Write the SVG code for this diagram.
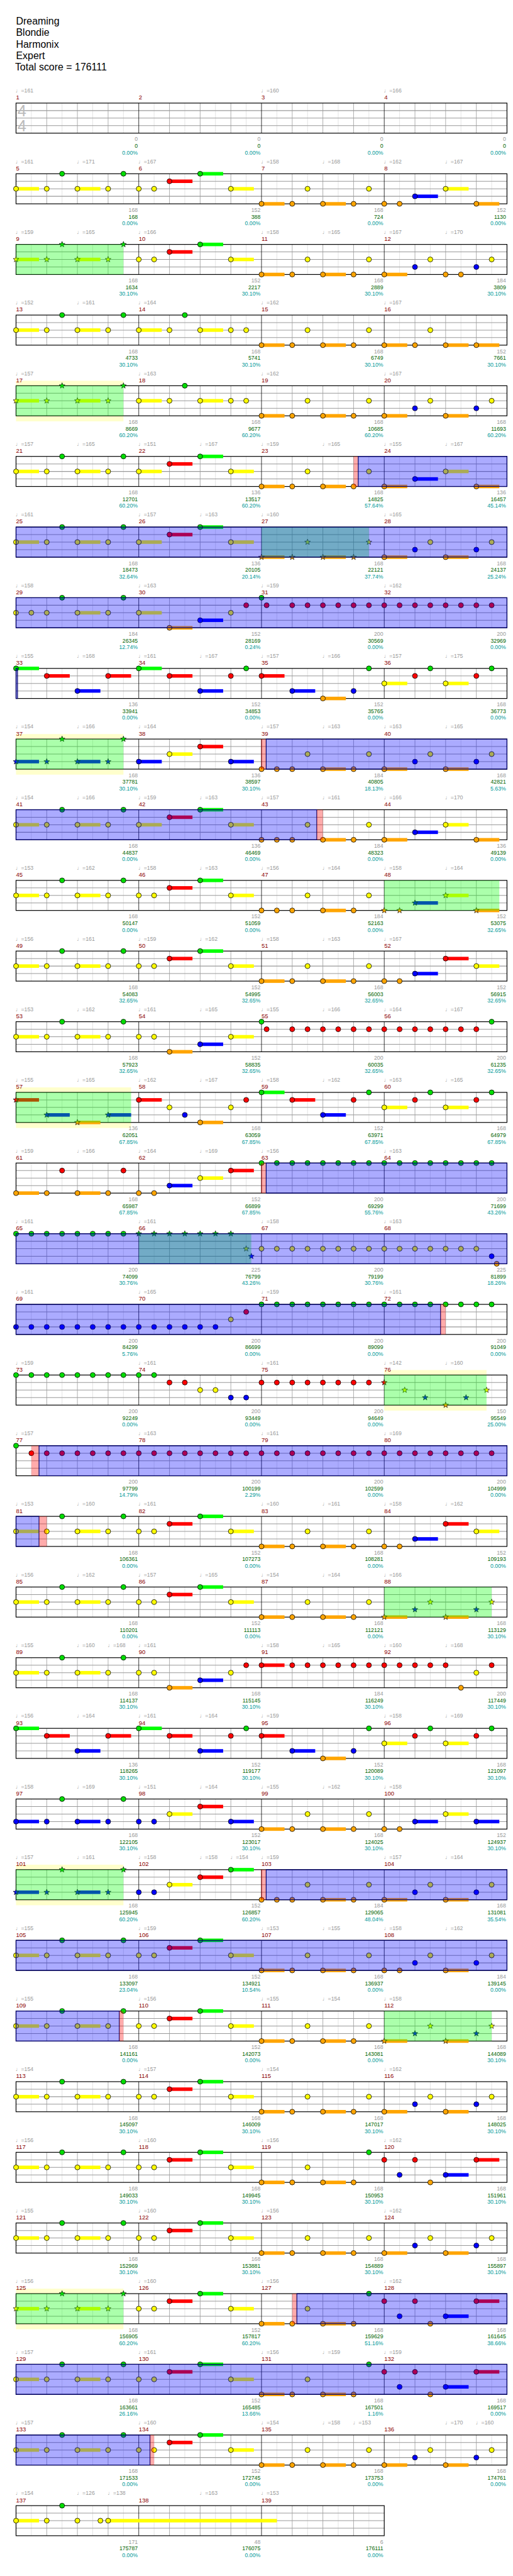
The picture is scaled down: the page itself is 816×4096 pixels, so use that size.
<svg xmlns="http://www.w3.org/2000/svg" width="816" height="4096" viewBox="0 0 816 4096">
<style>
text{font-family:"Liberation Sans","DejaVu Sans",Arial,sans-serif;font-size:11px}
.h{font-size:20px;fill:#000}
.q{fill:#999}
.n{fill:#8b0000;font-size:12px}
.s{fill:#999;text-anchor:end}
.c{fill:#006400;text-anchor:end}
.p{fill:#009999;text-anchor:end}
.ts{font-size:32px;fill:#bbb}
.sp{fill:#0f0;fill-opacity:.33}
.od{fill:#00f;fill-opacity:.33;stroke:#00006a;stroke-width:1.5}
.pk{fill:#f00;fill-opacity:.33}
.py{fill:#ffffcc}
</style>
<defs>
<circle id="G" r="5" fill="#00dd00" stroke="#000"/>
<circle id="R" r="5" fill="#f00" stroke="#000"/>
<circle id="Y" r="5" fill="#ff0" stroke="#000"/>
<circle id="B" r="5" fill="#00f" stroke="#000"/>
<circle id="O" r="5" fill="#ffa500" stroke="#000"/>
<polygon id="sG" fill="#00dd00" stroke="#000" stroke-width=".8" points="0,-6 1.47,-2.02 5.71,-1.85 2.38,0.77 3.53,4.85 0,2.5 -3.53,4.85 -2.38,0.77 -5.71,-1.85 -1.47,-2.02"/>
<polygon id="sR" fill="#f00" stroke="#000" stroke-width=".8" points="0,-6 1.47,-2.02 5.71,-1.85 2.38,0.77 3.53,4.85 0,2.5 -3.53,4.85 -2.38,0.77 -5.71,-1.85 -1.47,-2.02"/>
<polygon id="sY" fill="#ff0" stroke="#000" stroke-width=".8" points="0,-6 1.47,-2.02 5.71,-1.85 2.38,0.77 3.53,4.85 0,2.5 -3.53,4.85 -2.38,0.77 -5.71,-1.85 -1.47,-2.02"/>
<polygon id="sB" fill="#00f" stroke="#000" stroke-width=".8" points="0,-6 1.47,-2.02 5.71,-1.85 2.38,0.77 3.53,4.85 0,2.5 -3.53,4.85 -2.38,0.77 -5.71,-1.85 -1.47,-2.02"/>
<polygon id="sO" fill="#ffa500" stroke="#000" stroke-width=".8" points="0,-6 1.47,-2.02 5.71,-1.85 2.38,0.77 3.53,4.85 0,2.5 -3.53,4.85 -2.38,0.77 -5.71,-1.85 -1.47,-2.02"/>
<rect id="hG" y="-3.5" width="45.9" height="7" fill="#0f0"/>
<rect id="hR" y="-3.5" width="45.9" height="7" fill="#f00"/>
<rect id="hY" y="-3.5" width="45.9" height="7" fill="#ff0"/>
<rect id="hB" y="-3.5" width="45.9" height="7" fill="#00f"/>
<rect id="hO" y="-3.5" width="45.9" height="7" fill="#ffa500"/>
<g id="g4">
<rect x="32" width="980" height="60" fill="#fff"/>
<path d="M62.6 0V60M123.9 0V60M185.1 0V60M246.4 0V60M307.6 0V60M368.9 0V60M430.1 0V60M491.4 0V60M552.6 0V60M613.9 0V60M675.1 0V60M736.4 0V60M797.6 0V60M858.9 0V60M920.1 0V60M981.4 0V60" stroke="#ddd"/>
<path d="M93.3 0V60M154.5 0V60M215.8 0V60M338.3 0V60M399.5 0V60M460.8 0V60M583.3 0V60M644.5 0V60M705.8 0V60M828.3 0V60M889.5 0V60M950.8 0V60" stroke="#999"/>
<path d="M32 15H1012M32 30H1012M32 45H1012" stroke="#999" stroke-width="1.3"/>
<path d="M277 0V60M522 0V60M767 0V60" stroke="#000"/>
<rect x="32" width="980" height="60" fill="none" stroke="#000" stroke-width="1.5"/>
</g>
<g id="g3">
<rect x="32" width="735" height="60" fill="#fff"/>
<path d="M62.6 0V60M123.9 0V60M185.1 0V60M246.4 0V60M307.6 0V60M368.9 0V60M430.1 0V60M491.4 0V60M552.6 0V60M613.9 0V60M675.1 0V60M736.4 0V60" stroke="#ddd"/>
<path d="M93.3 0V60M154.5 0V60M215.8 0V60M338.3 0V60M399.5 0V60M460.8 0V60M583.3 0V60M644.5 0V60M705.8 0V60" stroke="#999"/>
<path d="M32 15H767M32 30H767M32 45H767" stroke="#999" stroke-width="1.3"/>
<path d="M277 0V60M522 0V60" stroke="#000"/>
<rect x="32" width="735" height="60" fill="none" stroke="#000" stroke-width="1.5"/>
</g>
<g id="P29">
<use href="#hG" x="399.5"/><use href="#G" x="123.9"/><use href="#G" x="246.4"/><use href="#G" x="399.5"/>
<g transform="translate(0,15)"><use href="#hR" x="338.3"/><use href="#R" x="338.3"/></g>
<g transform="translate(0,30)"><use href="#hY" x="32"/><use href="#hY" x="154.5"/><use href="#hY" x="460.8"/><use href="#Y" x="32"/><use href="#Y" x="93.3"/><use href="#Y" x="154.5"/><use href="#Y" x="215.8"/><use href="#Y" x="277"/><use href="#Y" x="307.6"/><use href="#Y" x="460.8"/><use href="#Y" x="613.9"/><use href="#Y" x="736.4"/><use href="#Y" x="858.9"/><use href="#Y" x="981.4"/></g>
<g transform="translate(0,45)"><use href="#B" x="828.3"/><use href="#B" x="950.8"/></g>
<g transform="translate(0,60)"><use href="#hO" x="522"/><use href="#hO" x="644.5"/><use href="#hO" x="767"/><use href="#hO" x="889.5"/><use href="#O" x="522"/><use href="#O" x="583.3"/><use href="#O" x="644.5"/><use href="#O" x="705.8"/><use href="#O" x="767"/><use href="#O" x="889.5"/></g>
</g>
<g id="P13">
<use href="#hG" x="399.5"/><use href="#G" x="123.9"/><use href="#G" x="246.4"/><use href="#G" x="399.5"/>
<g transform="translate(0,15)"><use href="#hR" x="338.3"/><use href="#hR" x="889.5"/><use href="#R" x="338.3"/><use href="#R" x="889.5"/></g>
<g transform="translate(0,30)"><use href="#hY" x="32"/><use href="#hY" x="154.5"/><use href="#hY" x="460.8"/><use href="#hY" x="950.8"/><use href="#Y" x="32"/><use href="#Y" x="93.3"/><use href="#Y" x="154.5"/><use href="#Y" x="215.8"/><use href="#Y" x="277"/><use href="#Y" x="307.6"/><use href="#Y" x="460.8"/><use href="#Y" x="613.9"/><use href="#Y" x="736.4"/><use href="#Y" x="950.8"/></g>
<g transform="translate(0,45)"><use href="#hB" x="828.3"/><use href="#B" x="828.3"/></g>
<g transform="translate(0,60)"><use href="#hO" x="522"/><use href="#hO" x="644.5"/><use href="#O" x="522"/><use href="#O" x="583.3"/><use href="#O" x="644.5"/><use href="#O" x="705.8"/><use href="#O" x="767"/><use href="#O" x="797.6"/></g>
</g>
<g id="P9">
<use href="#hG" x="32"/><use href="#hG" x="277"/><use href="#G" x="32"/><use href="#G" x="277"/><use href="#G" x="491.4"/><use href="#G" x="736.4"/><use href="#G" x="858.9"/><use href="#G" x="981.4"/>
<g transform="translate(0,15)"><use href="#hR" x="93.3"/><use href="#hR" x="215.8"/><use href="#hR" x="338.3"/><use href="#hR" x="522"/><use href="#R" x="93.3"/><use href="#R" x="215.8"/><use href="#R" x="338.3"/><use href="#R" x="460.8"/><use href="#R" x="522"/><use href="#R" x="828.3"/><use href="#R" x="950.8"/></g>
<g transform="translate(0,30)"><use href="#hY" x="767"/><use href="#hY" x="889.5"/><use href="#Y" x="767"/><use href="#Y" x="889.5"/></g>
<g transform="translate(0,45)"><use href="#hB" x="154.5"/><use href="#hB" x="399.5"/><use href="#hB" x="583.3"/><use href="#B" x="154.5"/><use href="#B" x="399.5"/><use href="#B" x="583.3"/><use href="#B" x="705.8"/></g>
<g transform="translate(0,60)"><use href="#hO" x="644.5"/><use href="#O" x="644.5"/></g>
</g>
<g id="P22">
<use href="#hG" x="399.5"/><use href="#G" x="123.9"/><use href="#G" x="246.4"/><use href="#G" x="399.5"/>
<g transform="translate(0,15)"><use href="#hR" x="338.3"/><use href="#R" x="338.3"/></g>
<g transform="translate(0,30)"><use href="#hY" x="32"/><use href="#hY" x="154.5"/><use href="#hY" x="460.8"/><use href="#Y" x="32"/><use href="#Y" x="93.3"/><use href="#Y" x="154.5"/><use href="#Y" x="215.8"/><use href="#Y" x="277"/><use href="#Y" x="307.6"/><use href="#Y" x="460.8"/><use href="#Y" x="613.9"/><use href="#Y" x="736.4"/><use href="#sY" x="858.9"/><use href="#sY" x="981.4"/></g>
<g transform="translate(0,45)"><use href="#sB" x="828.3"/><use href="#sB" x="950.8"/></g>
<g transform="translate(0,60)"><use href="#hO" x="522"/><use href="#hO" x="644.5"/><use href="#hO" x="767"/><use href="#hO" x="889.5"/><use href="#O" x="522"/><use href="#O" x="583.3"/><use href="#O" x="644.5"/><use href="#O" x="705.8"/><use href="#sO" x="767"/><use href="#sO" x="889.5"/></g>
</g>
<g id="P30">
<use href="#hG" x="399.5"/><use href="#G" x="123.9"/><use href="#G" x="246.4"/><use href="#G" x="399.5"/><use href="#G" x="736.4"/>
<g transform="translate(0,15)"><use href="#hR" x="338.3"/><use href="#hR" x="950.8"/><use href="#R" x="338.3"/><use href="#R" x="767"/><use href="#R" x="828.3"/><use href="#R" x="950.8"/></g>
<g transform="translate(0,30)"><use href="#hY" x="32"/><use href="#hY" x="154.5"/><use href="#hY" x="460.8"/><use href="#Y" x="32"/><use href="#Y" x="93.3"/><use href="#Y" x="154.5"/><use href="#Y" x="215.8"/><use href="#Y" x="277"/><use href="#Y" x="307.6"/><use href="#Y" x="460.8"/><use href="#Y" x="613.9"/></g>
<g transform="translate(0,45)"><use href="#hB" x="889.5"/><use href="#B" x="797.6"/><use href="#B" x="889.5"/></g>
<g transform="translate(0,60)"><use href="#hO" x="522"/><use href="#hO" x="644.5"/><use href="#O" x="522"/><use href="#O" x="583.3"/><use href="#O" x="644.5"/><use href="#O" x="705.8"/><use href="#O" x="858.9"/></g>
</g>
</defs>
<rect width="816" height="4096" fill="#fff"/>
<g transform="scale(0.796875)">
<g id="title">
<text class="h" x="32" y="49">Dreaming</text>
<text class="h" x="32" y="72">Blondie</text>
<text class="h" x="32" y="95">Harmonix</text>
<text class="h" x="32" y="118">Expert</text>
<text class="h" x="30" y="141">Total score = 176111</text>
</g>

<g id="r1" transform="translate(0,205.7)">
<use href="#g4"/>
<text class="ts" x="35" y="27">4</text><text class="ts" x="35" y="57">4</text>
<text class="q" y="-21"><tspan x="31">♩=161</tspan><tspan x="521">♩=160</tspan><tspan x="766">♩=166</tspan></text>
<text class="n" y="-7"><tspan x="32">1</tspan><tspan x="277">2</tspan><tspan x="522">3</tspan><tspan x="767">4</tspan></text>
<text class="s" y="76"><tspan x="275">0</tspan><tspan x="520">0</tspan><tspan x="765">0</tspan><tspan x="1010">0</tspan></text>
<text class="c" y="89.5"><tspan x="275">0</tspan><tspan x="520">0</tspan><tspan x="765">0</tspan><tspan x="1010">0</tspan></text>
<text class="p" y="102.5"><tspan x="275">0.00%</tspan><tspan x="520">0.00%</tspan><tspan x="765">0.00%</tspan><tspan x="1010">0.00%</tspan></text>
</g>

<g id="r2" transform="translate(0,346.7)">
<use href="#g4"/>
<use href="#hG" x="399.5"/><use href="#G" x="123.9"/><use href="#G" x="246.4"/><use href="#G" x="399.5"/>
<g transform="translate(0,15)"><use href="#hR" x="338.3"/><use href="#R" x="338.3"/></g>
<g transform="translate(0,30)"><use href="#hY" x="32"/><use href="#hY" x="154.5"/><use href="#hY" x="460.8"/><use href="#hY" x="889.5"/><use href="#Y" x="32"/><use href="#Y" x="93.3"/><use href="#Y" x="154.5"/><use href="#Y" x="215.8"/><use href="#Y" x="277"/><use href="#Y" x="307.6"/><use href="#Y" x="460.8"/><use href="#Y" x="613.9"/><use href="#Y" x="736.4"/><use href="#Y" x="889.5"/></g>
<g transform="translate(0,45)"><use href="#hB" x="828.3"/><use href="#B" x="828.3"/></g>
<g transform="translate(0,60)"><use href="#hO" x="522"/><use href="#hO" x="644.5"/><use href="#hO" x="950.8"/><use href="#O" x="522"/><use href="#O" x="583.3"/><use href="#O" x="644.5"/><use href="#O" x="705.8"/><use href="#O" x="767"/><use href="#O" x="797.6"/><use href="#O" x="950.8"/></g>
<text class="q" y="-21"><tspan x="31">♩=161</tspan><tspan x="153.5">♩=171</tspan><tspan x="276">♩=167</tspan><tspan x="521">♩=158</tspan><tspan x="643.5">♩=168</tspan><tspan x="766">♩=162</tspan><tspan x="888.5">♩=167</tspan></text>
<text class="n" y="-7"><tspan x="32">5</tspan><tspan x="277">6</tspan><tspan x="522">7</tspan><tspan x="767">8</tspan></text>
<text class="s" y="76"><tspan x="275">168</tspan><tspan x="520">152</tspan><tspan x="765">168</tspan><tspan x="1010">152</tspan></text>
<text class="c" y="89.5"><tspan x="275">168</tspan><tspan x="520">388</tspan><tspan x="765">724</tspan><tspan x="1010">1130</tspan></text>
<text class="p" y="102.5"><tspan x="275">0.00%</tspan><tspan x="520">0.00%</tspan><tspan x="765">0.00%</tspan><tspan x="1010">0.00%</tspan></text>
</g>

<g id="r3" transform="translate(0,487.7)">
<use href="#g4"/>
<use href="#hG" x="399.5"/><use href="#sG" x="123.9"/><use href="#sG" x="246.4"/><use href="#G" x="399.5"/>
<g transform="translate(0,15)"><use href="#hR" x="338.3"/><use href="#R" x="338.3"/></g>
<g transform="translate(0,30)"><use href="#hY" x="32"/><use href="#hY" x="154.5"/><use href="#hY" x="460.8"/><use href="#sY" x="32"/><use href="#sY" x="93.3"/><use href="#sY" x="154.5"/><use href="#sY" x="215.8"/><use href="#Y" x="277"/><use href="#Y" x="307.6"/><use href="#Y" x="460.8"/><use href="#Y" x="613.9"/><use href="#Y" x="736.4"/><use href="#Y" x="858.9"/><use href="#Y" x="981.4"/></g>
<g transform="translate(0,45)"><use href="#B" x="828.3"/><use href="#B" x="950.8"/></g>
<g transform="translate(0,60)"><use href="#hO" x="522"/><use href="#hO" x="644.5"/><use href="#hO" x="767"/><use href="#O" x="522"/><use href="#O" x="583.3"/><use href="#O" x="644.5"/><use href="#O" x="705.8"/><use href="#O" x="767"/><use href="#O" x="889.5"/><use href="#O" x="920.1"/></g>
<rect class="sp" x="32" width="214.4" height="60"/>
<text class="q" y="-21"><tspan x="31">♩=159</tspan><tspan x="153.5">♩=165</tspan><tspan x="276">♩=166</tspan><tspan x="521">♩=158</tspan><tspan x="643.5">♩=165</tspan><tspan x="766">♩=167</tspan><tspan x="888.5">♩=170</tspan></text>
<text class="n" y="-7"><tspan x="32">9</tspan><tspan x="277">10</tspan><tspan x="522">11</tspan><tspan x="767">12</tspan></text>
<text class="s" y="76"><tspan x="275">168</tspan><tspan x="520">152</tspan><tspan x="765">168</tspan><tspan x="1010">184</tspan></text>
<text class="c" y="89.5"><tspan x="275">1634</tspan><tspan x="520">2217</tspan><tspan x="765">2889</tspan><tspan x="1010">3809</tspan></text>
<text class="p" y="102.5"><tspan x="275">30.10%</tspan><tspan x="520">30.10%</tspan><tspan x="765">30.10%</tspan><tspan x="1010">30.10%</tspan></text>
</g>

<g id="r4" transform="translate(0,628.7)">
<use href="#g4"/>
<use href="#G" x="123.9"/><use href="#G" x="246.4"/><use href="#G" x="368.9"/>
<g transform="translate(0,30)"><use href="#hY" x="32"/><use href="#hY" x="154.5"/><use href="#hY" x="277"/><use href="#hY" x="399.5"/><use href="#Y" x="32"/><use href="#Y" x="93.3"/><use href="#Y" x="154.5"/><use href="#Y" x="215.8"/><use href="#Y" x="277"/><use href="#Y" x="338.3"/><use href="#Y" x="399.5"/><use href="#Y" x="460.8"/><use href="#Y" x="491.4"/><use href="#Y" x="613.9"/><use href="#Y" x="736.4"/><use href="#Y" x="858.9"/></g>
<g transform="translate(0,60)"><use href="#hO" x="522"/><use href="#hO" x="644.5"/><use href="#hO" x="767"/><use href="#hO" x="889.5"/><use href="#hO" x="950.8"/><use href="#O" x="522"/><use href="#O" x="583.3"/><use href="#O" x="644.5"/><use href="#O" x="705.8"/><use href="#O" x="767"/><use href="#O" x="828.3"/><use href="#O" x="889.5"/><use href="#O" x="950.8"/></g>
<text class="q" y="-21"><tspan x="31">♩=152</tspan><tspan x="153.5">♩=161</tspan><tspan x="276">♩=164</tspan><tspan x="521">♩=162</tspan><tspan x="766">♩=167</tspan></text>
<text class="n" y="-7"><tspan x="32">13</tspan><tspan x="277">14</tspan><tspan x="522">15</tspan><tspan x="767">16</tspan></text>
<text class="s" y="76"><tspan x="275">168</tspan><tspan x="520">168</tspan><tspan x="765">168</tspan><tspan x="1010">152</tspan></text>
<text class="c" y="89.5"><tspan x="275">4733</tspan><tspan x="520">5741</tspan><tspan x="765">6749</tspan><tspan x="1010">7661</tspan></text>
<text class="p" y="102.5"><tspan x="275">30.10%</tspan><tspan x="520">30.10%</tspan><tspan x="765">30.10%</tspan><tspan x="1010">30.10%</tspan></text>
</g>

<g id="r5" transform="translate(0,769.7)">
<rect class="py" x="32" y="-10" width="214.4" height="81"/>
<use href="#g4"/>
<use href="#sG" x="123.9"/><use href="#sG" x="246.4"/><use href="#G" x="368.9"/>
<g transform="translate(0,30)"><use href="#hY" x="32"/><use href="#hY" x="154.5"/><use href="#hY" x="277"/><use href="#hY" x="399.5"/><use href="#sY" x="32"/><use href="#sY" x="93.3"/><use href="#sY" x="154.5"/><use href="#sY" x="215.8"/><use href="#Y" x="277"/><use href="#Y" x="338.3"/><use href="#Y" x="399.5"/><use href="#Y" x="460.8"/><use href="#Y" x="491.4"/><use href="#Y" x="613.9"/><use href="#Y" x="736.4"/><use href="#Y" x="858.9"/><use href="#Y" x="981.4"/></g>
<g transform="translate(0,45)"><use href="#B" x="828.3"/><use href="#B" x="950.8"/></g>
<g transform="translate(0,60)"><use href="#hO" x="522"/><use href="#hO" x="644.5"/><use href="#hO" x="767"/><use href="#hO" x="889.5"/><use href="#O" x="522"/><use href="#O" x="583.3"/><use href="#O" x="644.5"/><use href="#O" x="705.8"/><use href="#O" x="767"/><use href="#O" x="889.5"/></g>
<rect class="sp" x="32" width="214.4" height="60"/>
<text class="q" y="-21"><tspan x="31">♩=157</tspan><tspan x="276">♩=163</tspan><tspan x="521">♩=162</tspan><tspan x="766">♩=167</tspan></text>
<text class="n" y="-7"><tspan x="32">17</tspan><tspan x="277">18</tspan><tspan x="522">19</tspan><tspan x="767">20</tspan></text>
<text class="s" y="76"><tspan x="275">168</tspan><tspan x="520">168</tspan><tspan x="765">168</tspan><tspan x="1010">168</tspan></text>
<text class="c" y="89.5"><tspan x="275">8669</tspan><tspan x="520">9677</tspan><tspan x="765">10685</tspan><tspan x="1010">11693</tspan></text>
<text class="p" y="102.5"><tspan x="275">60.20%</tspan><tspan x="520">60.20%</tspan><tspan x="765">60.20%</tspan><tspan x="1010">60.20%</tspan></text>
</g>

<g id="r6" transform="translate(0,910.7)">
<use href="#g4"/>
<use href="#hG" x="399.5"/><use href="#G" x="123.9"/><use href="#G" x="246.4"/><use href="#G" x="399.5"/>
<g transform="translate(0,15)"><use href="#hR" x="338.3"/><use href="#R" x="338.3"/></g>
<g transform="translate(0,30)"><use href="#hY" x="32"/><use href="#hY" x="154.5"/><use href="#hY" x="277"/><use href="#hY" x="460.8"/><use href="#hY" x="889.5"/><use href="#Y" x="32"/><use href="#Y" x="93.3"/><use href="#Y" x="154.5"/><use href="#Y" x="215.8"/><use href="#Y" x="277"/><use href="#Y" x="460.8"/><use href="#Y" x="613.9"/><use href="#Y" x="736.4"/><use href="#Y" x="889.5"/></g>
<g transform="translate(0,45)"><use href="#hB" x="828.3"/><use href="#B" x="828.3"/></g>
<g transform="translate(0,60)"><use href="#hO" x="522"/><use href="#hO" x="644.5"/><use href="#hO" x="767"/><use href="#hO" x="950.8"/><use href="#O" x="522"/><use href="#O" x="583.3"/><use href="#O" x="644.5"/><use href="#O" x="705.8"/><use href="#O" x="767"/><use href="#O" x="950.8"/></g>
<rect class="pk" x="705.8" width="9.3" height="60"/><rect class="od" x="715.1" width="296.9" height="60"/>
<text class="q" y="-21"><tspan x="31">♩=157</tspan><tspan x="153.5">♩=165</tspan><tspan x="276">♩=151</tspan><tspan x="398.5">♩=167</tspan><tspan x="521">♩=159</tspan><tspan x="643.5">♩=165</tspan><tspan x="766">♩=155</tspan><tspan x="888.5">♩=167</tspan></text>
<text class="n" y="-7"><tspan x="32">21</tspan><tspan x="277">22</tspan><tspan x="522">23</tspan><tspan x="767">24</tspan></text>
<text class="s" y="76"><tspan x="275">168</tspan><tspan x="520">136</tspan><tspan x="765">168</tspan><tspan x="1010">136</tspan></text>
<text class="c" y="89.5"><tspan x="275">12701</tspan><tspan x="520">13517</tspan><tspan x="765">14825</tspan><tspan x="1010">16457</tspan></text>
<text class="p" y="102.5"><tspan x="275">60.20%</tspan><tspan x="520">60.20%</tspan><tspan x="765">57.64%</tspan><tspan x="1010">45.14%</tspan></text>
</g>

<g id="r7" transform="translate(0,1051.7)">
<use href="#g4"/>
<use href="#hG" x="399.5"/><use href="#G" x="123.9"/><use href="#G" x="246.4"/><use href="#G" x="399.5"/>
<g transform="translate(0,15)"><use href="#hR" x="338.3"/><use href="#R" x="338.3"/></g>
<g transform="translate(0,30)"><use href="#hY" x="32"/><use href="#hY" x="154.5"/><use href="#hY" x="277"/><use href="#hY" x="460.8"/><use href="#Y" x="32"/><use href="#Y" x="93.3"/><use href="#Y" x="154.5"/><use href="#Y" x="215.8"/><use href="#Y" x="277"/><use href="#Y" x="460.8"/><use href="#sY" x="613.9"/><use href="#sY" x="736.4"/><use href="#Y" x="858.9"/><use href="#Y" x="981.4"/></g>
<g transform="translate(0,45)"><use href="#B" x="828.3"/><use href="#B" x="950.8"/></g>
<g transform="translate(0,60)"><use href="#hO" x="522"/><use href="#hO" x="644.5"/><use href="#hO" x="767"/><use href="#hO" x="889.5"/><use href="#sO" x="522"/><use href="#sO" x="583.3"/><use href="#sO" x="644.5"/><use href="#sO" x="705.8"/><use href="#O" x="767"/><use href="#O" x="889.5"/></g>
<rect class="sp" x="522" width="214.4" height="60"/><rect class="od" x="32" width="980" height="60"/>
<text class="q" y="-21"><tspan x="31">♩=161</tspan><tspan x="276">♩=157</tspan><tspan x="398.5">♩=163</tspan><tspan x="521">♩=160</tspan><tspan x="766">♩=165</tspan></text>
<text class="n" y="-7"><tspan x="32">25</tspan><tspan x="277">26</tspan><tspan x="522">27</tspan><tspan x="767">28</tspan></text>
<text class="s" y="76"><tspan x="275">168</tspan><tspan x="520">136</tspan><tspan x="765">168</tspan><tspan x="1010">168</tspan></text>
<text class="c" y="89.5"><tspan x="275">18473</tspan><tspan x="520">20105</tspan><tspan x="765">22121</tspan><tspan x="1010">24137</tspan></text>
<text class="p" y="102.5"><tspan x="275">32.64%</tspan><tspan x="520">20.14%</tspan><tspan x="765">37.74%</tspan><tspan x="1010">25.24%</tspan></text>
</g>

<g id="r8" transform="translate(0,1192.7)">
<use href="#g4"/>
<use href="#G" x="123.9"/><use href="#G" x="246.4"/><use href="#G" x="522"/>
<g transform="translate(0,15)"><use href="#R" x="491.4"/><use href="#R" x="532.2"/><use href="#R" x="583.3"/><use href="#R" x="613.9"/><use href="#R" x="644.5"/><use href="#R" x="675.1"/><use href="#R" x="705.8"/><use href="#R" x="736.4"/><use href="#R" x="767"/><use href="#R" x="797.6"/><use href="#R" x="828.3"/><use href="#R" x="858.9"/><use href="#R" x="889.5"/><use href="#R" x="920.1"/><use href="#R" x="950.8"/><use href="#R" x="981.4"/></g>
<g transform="translate(0,30)"><use href="#hY" x="154.5"/><use href="#hY" x="277"/><use href="#Y" x="32"/><use href="#Y" x="62.6"/><use href="#Y" x="93.3"/><use href="#Y" x="154.5"/><use href="#Y" x="215.8"/><use href="#Y" x="277"/><use href="#Y" x="460.8"/></g>
<g transform="translate(0,45)"><use href="#hB" x="399.5"/><use href="#B" x="399.5"/></g>
<g transform="translate(0,60)"><use href="#hO" x="338.3"/><use href="#O" x="338.3"/></g>
<rect class="od" x="32" width="980" height="60"/>
<text class="q" y="-21"><tspan x="31">♩=158</tspan><tspan x="276">♩=163</tspan><tspan x="521">♩=159</tspan><tspan x="766">♩=162</tspan></text>
<text class="n" y="-7"><tspan x="32">29</tspan><tspan x="277">30</tspan><tspan x="522">31</tspan><tspan x="767">32</tspan></text>
<text class="s" y="76"><tspan x="275">184</tspan><tspan x="520">152</tspan><tspan x="765">200</tspan><tspan x="1010">200</tspan></text>
<text class="c" y="89.5"><tspan x="275">26345</tspan><tspan x="520">28169</tspan><tspan x="765">30569</tspan><tspan x="1010">32969</tspan></text>
<text class="p" y="102.5"><tspan x="275">12.74%</tspan><tspan x="520">0.24%</tspan><tspan x="765">0.00%</tspan><tspan x="1010">0.00%</tspan></text>
</g>

<g id="r9" transform="translate(0,1333.7)">
<use href="#g4"/>
<use href="#P9"/>
<rect class="od" x="32" width="3" height="60"/>
<text class="q" y="-21"><tspan x="31">♩=155</tspan><tspan x="153.5">♩=168</tspan><tspan x="276">♩=161</tspan><tspan x="398.5">♩=167</tspan><tspan x="521">♩=157</tspan><tspan x="643.5">♩=166</tspan><tspan x="766">♩=157</tspan><tspan x="888.5">♩=175</tspan></text>
<text class="n" y="-7"><tspan x="32">33</tspan><tspan x="277">34</tspan><tspan x="522">35</tspan><tspan x="767">36</tspan></text>
<text class="s" y="76"><tspan x="275">136</tspan><tspan x="520">152</tspan><tspan x="765">152</tspan><tspan x="1010">168</tspan></text>
<text class="c" y="89.5"><tspan x="275">33941</tspan><tspan x="520">34853</tspan><tspan x="765">35765</tspan><tspan x="1010">36773</tspan></text>
<text class="p" y="102.5"><tspan x="275">0.00%</tspan><tspan x="520">0.00%</tspan><tspan x="765">0.00%</tspan><tspan x="1010">0.00%</tspan></text>
</g>

<g id="r10" transform="translate(0,1474.7)">
<rect class="py" x="32" y="-10" width="214.4" height="81"/>
<use href="#g4"/>
<use href="#sG" x="123.9"/><use href="#sG" x="246.4"/>
<g transform="translate(0,15)"><use href="#hR" x="399.5"/><use href="#R" x="399.5"/></g>
<g transform="translate(0,30)"><use href="#hY" x="338.3"/><use href="#Y" x="338.3"/><use href="#Y" x="613.9"/><use href="#Y" x="736.4"/><use href="#Y" x="858.9"/><use href="#Y" x="981.4"/></g>
<g transform="translate(0,45)"><use href="#hB" x="32"/><use href="#hB" x="154.5"/><use href="#hB" x="277"/><use href="#hB" x="460.8"/><use href="#sB" x="32"/><use href="#sB" x="93.3"/><use href="#sB" x="154.5"/><use href="#sB" x="215.8"/><use href="#B" x="277"/><use href="#B" x="460.8"/><use href="#B" x="828.3"/><use href="#B" x="950.8"/></g>
<g transform="translate(0,60)"><use href="#hO" x="644.5"/><use href="#hO" x="767"/><use href="#hO" x="889.5"/><use href="#O" x="522"/><use href="#O" x="552.6"/><use href="#O" x="583.3"/><use href="#O" x="644.5"/><use href="#O" x="705.8"/><use href="#O" x="767"/><use href="#O" x="889.5"/></g>
<rect class="sp" x="32" width="214.4" height="60"/>
<rect class="pk" x="522" width="9.3" height="60"/><path d="M522 0V60" stroke="#900"/><rect class="od" x="531.3" width="480.7" height="60"/>
<text class="q" y="-21"><tspan x="31">♩=154</tspan><tspan x="153.5">♩=166</tspan><tspan x="276">♩=164</tspan><tspan x="521">♩=157</tspan><tspan x="643.5">♩=163</tspan><tspan x="766">♩=163</tspan><tspan x="888.5">♩=165</tspan></text>
<text class="n" y="-7"><tspan x="32">37</tspan><tspan x="277">38</tspan><tspan x="522">39</tspan><tspan x="767">40</tspan></text>
<text class="s" y="76"><tspan x="275">168</tspan><tspan x="520">136</tspan><tspan x="765">184</tspan><tspan x="1010">168</tspan></text>
<text class="c" y="89.5"><tspan x="275">37781</tspan><tspan x="520">38597</tspan><tspan x="765">40805</tspan><tspan x="1010">42821</tspan></text>
<text class="p" y="102.5"><tspan x="275">30.10%</tspan><tspan x="520">30.10%</tspan><tspan x="765">18.13%</tspan><tspan x="1010">5.63%</tspan></text>
</g>

<g id="r11" transform="translate(0,1615.7)">
<use href="#g4"/>
<use href="#hG" x="399.5"/><use href="#G" x="123.9"/><use href="#G" x="246.4"/><use href="#G" x="399.5"/>
<g transform="translate(0,15)"><use href="#hR" x="338.3"/><use href="#R" x="338.3"/></g>
<g transform="translate(0,30)"><use href="#hY" x="32"/><use href="#hY" x="154.5"/><use href="#hY" x="277"/><use href="#hY" x="460.8"/><use href="#hY" x="889.5"/><use href="#Y" x="32"/><use href="#Y" x="93.3"/><use href="#Y" x="154.5"/><use href="#Y" x="215.8"/><use href="#Y" x="277"/><use href="#Y" x="460.8"/><use href="#Y" x="613.9"/><use href="#Y" x="736.4"/><use href="#Y" x="889.5"/></g>
<g transform="translate(0,45)"><use href="#hB" x="828.3"/><use href="#B" x="828.3"/></g>
<g transform="translate(0,60)"><use href="#hO" x="644.5"/><use href="#hO" x="767"/><use href="#hO" x="950.8"/><use href="#O" x="522"/><use href="#O" x="552.6"/><use href="#O" x="583.3"/><use href="#O" x="644.5"/><use href="#O" x="705.8"/><use href="#O" x="767"/><use href="#O" x="950.8"/></g>
<rect class="od" x="32" width="600.3" height="60"/><rect class="pk" x="632.3" width="12.2" height="60"/>
<text class="q" y="-21"><tspan x="31">♩=154</tspan><tspan x="153.5">♩=166</tspan><tspan x="276">♩=159</tspan><tspan x="398.5">♩=163</tspan><tspan x="521">♩=157</tspan><tspan x="643.5">♩=161</tspan><tspan x="766">♩=166</tspan><tspan x="888.5">♩=170</tspan></text>
<text class="n" y="-7"><tspan x="32">41</tspan><tspan x="277">42</tspan><tspan x="522">43</tspan><tspan x="767">44</tspan></text>
<text class="s" y="76"><tspan x="275">168</tspan><tspan x="520">136</tspan><tspan x="765">184</tspan><tspan x="1010">136</tspan></text>
<text class="c" y="89.5"><tspan x="275">44837</tspan><tspan x="520">46469</tspan><tspan x="765">48323</tspan><tspan x="1010">49139</tspan></text>
<text class="p" y="102.5"><tspan x="275">0.00%</tspan><tspan x="520">0.00%</tspan><tspan x="765">0.00%</tspan><tspan x="1010">0.00%</tspan></text>
</g>

<g id="r12" transform="translate(0,1756.7)">
<use href="#g4"/>
<use href="#hG" x="399.5"/><use href="#G" x="123.9"/><use href="#G" x="246.4"/><use href="#G" x="399.5"/>
<g transform="translate(0,15)"><use href="#hR" x="338.3"/><use href="#R" x="338.3"/></g>
<g transform="translate(0,30)"><use href="#hY" x="32"/><use href="#hY" x="154.5"/><use href="#hY" x="460.8"/><use href="#hY" x="889.5"/><use href="#Y" x="32"/><use href="#Y" x="93.3"/><use href="#Y" x="154.5"/><use href="#Y" x="215.8"/><use href="#Y" x="277"/><use href="#Y" x="307.6"/><use href="#Y" x="460.8"/><use href="#Y" x="613.9"/><use href="#Y" x="736.4"/><use href="#sY" x="889.5"/></g>
<g transform="translate(0,45)"><use href="#hB" x="828.3"/><use href="#sB" x="828.3"/></g>
<g transform="translate(0,60)"><use href="#hO" x="644.5"/><use href="#hO" x="950.8"/><use href="#O" x="522"/><use href="#O" x="552.6"/><use href="#O" x="583.3"/><use href="#O" x="644.5"/><use href="#O" x="705.8"/><use href="#sO" x="767"/><use href="#sO" x="797.6"/><use href="#sO" x="950.8"/></g>
<rect class="sp" x="767" width="229.7" height="60"/>
<text class="q" y="-21"><tspan x="31">♩=153</tspan><tspan x="153.5">♩=162</tspan><tspan x="276">♩=158</tspan><tspan x="398.5">♩=163</tspan><tspan x="521">♩=156</tspan><tspan x="643.5">♩=164</tspan><tspan x="766">♩=158</tspan><tspan x="888.5">♩=164</tspan></text>
<text class="n" y="-7"><tspan x="32">45</tspan><tspan x="277">46</tspan><tspan x="522">47</tspan><tspan x="767">48</tspan></text>
<text class="s" y="76"><tspan x="275">168</tspan><tspan x="520">152</tspan><tspan x="765">184</tspan><tspan x="1010">152</tspan></text>
<text class="c" y="89.5"><tspan x="275">50147</tspan><tspan x="520">51059</tspan><tspan x="765">52163</tspan><tspan x="1010">53075</tspan></text>
<text class="p" y="102.5"><tspan x="275">0.00%</tspan><tspan x="520">0.00%</tspan><tspan x="765">0.00%</tspan><tspan x="1010">32.65%</tspan></text>
</g>

<g id="r13" transform="translate(0,1897.7)">
<use href="#g4"/>
<use href="#P13"/>
<text class="q" y="-21"><tspan x="31">♩=156</tspan><tspan x="153.5">♩=161</tspan><tspan x="276">♩=159</tspan><tspan x="398.5">♩=162</tspan><tspan x="521">♩=158</tspan><tspan x="643.5">♩=163</tspan><tspan x="766">♩=167</tspan></text>
<text class="n" y="-7"><tspan x="32">49</tspan><tspan x="277">50</tspan><tspan x="522">51</tspan><tspan x="767">52</tspan></text>
<text class="s" y="76"><tspan x="275">168</tspan><tspan x="520">152</tspan><tspan x="765">168</tspan><tspan x="1010">152</tspan></text>
<text class="c" y="89.5"><tspan x="275">54083</tspan><tspan x="520">54995</tspan><tspan x="765">56003</tspan><tspan x="1010">56915</tspan></text>
<text class="p" y="102.5"><tspan x="275">32.65%</tspan><tspan x="520">32.65%</tspan><tspan x="765">32.65%</tspan><tspan x="1010">32.65%</tspan></text>
</g>

<g id="r14" transform="translate(0,2038.7)">
<use href="#g4"/>
<use href="#G" x="123.9"/><use href="#G" x="246.4"/><use href="#G" x="522"/><use href="#G" x="981.4"/>
<g transform="translate(0,15)"><use href="#R" x="532.2"/><use href="#R" x="583.3"/><use href="#R" x="613.9"/><use href="#R" x="644.5"/><use href="#R" x="675.1"/><use href="#R" x="705.8"/><use href="#R" x="736.4"/><use href="#R" x="767"/><use href="#R" x="797.6"/><use href="#R" x="828.3"/><use href="#R" x="858.9"/><use href="#R" x="889.5"/><use href="#R" x="920.1"/><use href="#R" x="950.8"/></g>
<g transform="translate(0,30)"><use href="#hY" x="32"/><use href="#hY" x="154.5"/><use href="#hY" x="460.8"/><use href="#Y" x="32"/><use href="#Y" x="93.3"/><use href="#Y" x="154.5"/><use href="#Y" x="215.8"/><use href="#Y" x="277"/><use href="#Y" x="307.6"/><use href="#Y" x="460.8"/></g>
<g transform="translate(0,45)"><use href="#hB" x="399.5"/><use href="#B" x="399.5"/></g>
<g transform="translate(0,60)"><use href="#hO" x="338.3"/><use href="#O" x="338.3"/></g>
<text class="q" y="-21"><tspan x="31">♩=153</tspan><tspan x="153.5">♩=162</tspan><tspan x="276">♩=161</tspan><tspan x="398.5">♩=165</tspan><tspan x="521">♩=155</tspan><tspan x="643.5">♩=166</tspan><tspan x="766">♩=164</tspan><tspan x="888.5">♩=167</tspan></text>
<text class="n" y="-7"><tspan x="32">53</tspan><tspan x="277">54</tspan><tspan x="522">55</tspan><tspan x="767">56</tspan></text>
<text class="s" y="76"><tspan x="275">168</tspan><tspan x="520">152</tspan><tspan x="765">200</tspan><tspan x="1010">200</tspan></text>
<text class="c" y="89.5"><tspan x="275">57923</tspan><tspan x="520">58835</tspan><tspan x="765">60035</tspan><tspan x="1010">61235</tspan></text>
<text class="p" y="102.5"><tspan x="275">32.65%</tspan><tspan x="520">32.65%</tspan><tspan x="765">32.65%</tspan><tspan x="1010">32.65%</tspan></text>
</g>

<g id="r15" transform="translate(0,2179.7)">
<rect class="py" x="32" y="-10" width="229.7" height="81"/>
<use href="#g4"/>
<use href="#hG" x="522"/><use href="#G" x="522"/><use href="#G" x="736.4"/><use href="#G" x="858.9"/><use href="#G" x="981.4"/>
<g transform="translate(0,15)"><use href="#hR" x="32"/><use href="#hR" x="277"/><use href="#hR" x="583.3"/><use href="#sR" x="32"/><use href="#R" x="277"/><use href="#R" x="491.4"/><use href="#R" x="583.3"/><use href="#R" x="705.8"/><use href="#R" x="828.3"/><use href="#R" x="950.8"/></g>
<g transform="translate(0,30)"><use href="#hY" x="767"/><use href="#hY" x="889.5"/><use href="#Y" x="338.3"/><use href="#Y" x="460.8"/><use href="#Y" x="767"/><use href="#Y" x="889.5"/></g>
<g transform="translate(0,45)"><use href="#hB" x="93.3"/><use href="#hB" x="215.8"/><use href="#hB" x="644.5"/><use href="#sB" x="93.3"/><use href="#sB" x="215.8"/><use href="#B" x="368.9"/><use href="#B" x="644.5"/></g>
<g transform="translate(0,60)"><use href="#hO" x="154.5"/><use href="#hO" x="399.5"/><use href="#sO" x="154.5"/><use href="#O" x="399.5"/></g>
<rect class="sp" x="32" width="229.7" height="60"/>
<text class="q" y="-21"><tspan x="31">♩=155</tspan><tspan x="153.5">♩=165</tspan><tspan x="276">♩=162</tspan><tspan x="398.5">♩=167</tspan><tspan x="521">♩=158</tspan><tspan x="643.5">♩=162</tspan><tspan x="766">♩=163</tspan><tspan x="888.5">♩=165</tspan></text>
<text class="n" y="-7"><tspan x="32">57</tspan><tspan x="277">58</tspan><tspan x="522">59</tspan><tspan x="767">60</tspan></text>
<text class="s" y="76"><tspan x="275">136</tspan><tspan x="520">168</tspan><tspan x="765">152</tspan><tspan x="1010">168</tspan></text>
<text class="c" y="89.5"><tspan x="275">62051</tspan><tspan x="520">63059</tspan><tspan x="765">63971</tspan><tspan x="1010">64979</tspan></text>
<text class="p" y="102.5"><tspan x="275">67.85%</tspan><tspan x="520">67.85%</tspan><tspan x="765">67.85%</tspan><tspan x="1010">67.85%</tspan></text>
</g>

<g id="r16" transform="translate(0,2320.7)">
<use href="#g4"/>
<use href="#G" x="522"/><use href="#G" x="552.6"/><use href="#G" x="583.3"/><use href="#G" x="613.9"/><use href="#G" x="644.5"/><use href="#G" x="675.1"/><use href="#G" x="705.8"/><use href="#G" x="736.4"/><use href="#G" x="767"/><use href="#G" x="797.6"/><use href="#G" x="828.3"/><use href="#G" x="858.9"/><use href="#G" x="889.5"/><use href="#G" x="920.1"/><use href="#G" x="950.8"/><use href="#G" x="981.4"/>
<g transform="translate(0,15)"><use href="#hR" x="460.8"/><use href="#R" x="123.9"/><use href="#R" x="246.4"/><use href="#R" x="460.8"/></g>
<g transform="translate(0,30)"><use href="#hY" x="399.5"/><use href="#Y" x="399.5"/></g>
<g transform="translate(0,45)"><use href="#hB" x="338.3"/><use href="#B" x="338.3"/></g>
<g transform="translate(0,60)"><use href="#hO" x="32"/><use href="#hO" x="154.5"/><use href="#O" x="32"/><use href="#O" x="93.3"/><use href="#O" x="154.5"/><use href="#O" x="215.8"/><use href="#O" x="277"/><use href="#O" x="307.6"/></g>
<rect class="pk" x="522" width="9.3" height="60"/><path d="M522 0V60" stroke="#900"/><rect class="od" x="531.3" width="480.7" height="60"/>
<text class="q" y="-21"><tspan x="31">♩=159</tspan><tspan x="153.5">♩=166</tspan><tspan x="276">♩=164</tspan><tspan x="398.5">♩=169</tspan><tspan x="521">♩=156</tspan><tspan x="766">♩=163</tspan></text>
<text class="n" y="-7"><tspan x="32">61</tspan><tspan x="277">62</tspan><tspan x="522">63</tspan><tspan x="767">64</tspan></text>
<text class="s" y="76"><tspan x="275">168</tspan><tspan x="520">152</tspan><tspan x="765">200</tspan><tspan x="1010">200</tspan></text>
<text class="c" y="89.5"><tspan x="275">65987</tspan><tspan x="520">66899</tspan><tspan x="765">69299</tspan><tspan x="1010">71699</tspan></text>
<text class="p" y="102.5"><tspan x="275">67.85%</tspan><tspan x="520">67.85%</tspan><tspan x="765">55.76%</tspan><tspan x="1010">43.26%</tspan></text>
</g>

<g id="r17" transform="translate(0,2461.7)">
<use href="#g4"/>
<use href="#G" x="32"/><use href="#G" x="62.6"/><use href="#G" x="93.3"/><use href="#G" x="123.9"/><use href="#G" x="154.5"/><use href="#G" x="185.1"/><use href="#G" x="215.8"/><use href="#G" x="246.4"/><use href="#sG" x="277"/><use href="#sG" x="307.6"/><use href="#sG" x="338.3"/><use href="#sG" x="368.9"/><use href="#sG" x="399.5"/><use href="#sG" x="430.1"/><use href="#sG" x="460.8"/>
<g transform="translate(0,30)"><use href="#sY" x="491.4"/><use href="#Y" x="522"/><use href="#Y" x="552.6"/><use href="#Y" x="583.3"/><use href="#Y" x="613.9"/><use href="#Y" x="644.5"/><use href="#Y" x="675.1"/><use href="#Y" x="705.8"/><use href="#Y" x="736.4"/><use href="#Y" x="767"/><use href="#Y" x="797.6"/><use href="#Y" x="828.3"/><use href="#Y" x="858.9"/><use href="#Y" x="889.5"/><use href="#Y" x="920.1"/><use href="#Y" x="950.8"/></g>
<g transform="translate(0,45)"><use href="#sB" x="501.6"/><use href="#B" x="981.4"/></g>
<g transform="translate(0,60)"><use href="#O" x="991.5"/></g>
<rect class="sp" x="277" width="224.6" height="60"/><rect class="od" x="32" width="980" height="60"/>
<text class="q" y="-21"><tspan x="31">♩=161</tspan><tspan x="276">♩=161</tspan><tspan x="521">♩=158</tspan><tspan x="766">♩=163</tspan></text>
<text class="n" y="-7"><tspan x="32">65</tspan><tspan x="277">66</tspan><tspan x="522">67</tspan><tspan x="767">68</tspan></text>
<text class="s" y="76"><tspan x="275">200</tspan><tspan x="520">225</tspan><tspan x="765">200</tspan><tspan x="1010">225</tspan></text>
<text class="c" y="89.5"><tspan x="275">74099</tspan><tspan x="520">76799</tspan><tspan x="765">79199</tspan><tspan x="1010">81899</tspan></text>
<text class="p" y="102.5"><tspan x="275">30.76%</tspan><tspan x="520">43.26%</tspan><tspan x="765">30.76%</tspan><tspan x="1010">18.26%</tspan></text>
</g>

<g id="r18" transform="translate(0,2602.7)">
<use href="#g4"/>
<use href="#G" x="522"/><use href="#G" x="552.6"/><use href="#G" x="583.3"/><use href="#G" x="613.9"/><use href="#G" x="644.5"/><use href="#G" x="675.1"/><use href="#G" x="705.8"/><use href="#G" x="736.4"/><use href="#G" x="767"/><use href="#G" x="797.6"/><use href="#G" x="828.3"/><use href="#G" x="858.9"/><use href="#G" x="889.5"/><use href="#G" x="920.1"/><use href="#G" x="950.8"/><use href="#G" x="981.4"/>
<g transform="translate(0,15)"><use href="#R" x="491.4"/></g>
<g transform="translate(0,30)"><use href="#Y" x="460.8"/></g>
<g transform="translate(0,45)"><use href="#B" x="32"/><use href="#B" x="62.6"/><use href="#B" x="93.3"/><use href="#B" x="123.9"/><use href="#B" x="154.5"/><use href="#B" x="185.1"/><use href="#B" x="215.8"/><use href="#B" x="246.4"/><use href="#B" x="277"/><use href="#B" x="307.6"/><use href="#B" x="338.3"/><use href="#B" x="368.9"/><use href="#B" x="399.5"/><use href="#B" x="430.1"/></g>
<rect class="od" x="32" width="847.4" height="60"/><rect class="pk" x="879.4" width="10.1" height="60"/>
<text class="q" y="-21"><tspan x="31">♩=161</tspan><tspan x="276">♩=165</tspan><tspan x="521">♩=159</tspan><tspan x="766">♩=161</tspan></text>
<text class="n" y="-7"><tspan x="32">69</tspan><tspan x="277">70</tspan><tspan x="522">71</tspan><tspan x="767">72</tspan></text>
<text class="s" y="76"><tspan x="275">200</tspan><tspan x="520">200</tspan><tspan x="765">200</tspan><tspan x="1010">200</tspan></text>
<text class="c" y="89.5"><tspan x="275">84299</tspan><tspan x="520">86699</tspan><tspan x="765">89099</tspan><tspan x="1010">91049</tspan></text>
<text class="p" y="102.5"><tspan x="275">5.76%</tspan><tspan x="520">0.00%</tspan><tspan x="765">0.00%</tspan><tspan x="1010">0.00%</tspan></text>
</g>

<g id="r19" transform="translate(0,2743.7)">
<rect class="py" x="767" y="-10" width="204.2" height="81"/>
<use href="#g4"/>
<use href="#G" x="32"/><use href="#G" x="62.6"/><use href="#G" x="93.3"/><use href="#G" x="123.9"/><use href="#G" x="154.5"/><use href="#G" x="185.1"/><use href="#G" x="215.8"/><use href="#G" x="246.4"/><use href="#G" x="277"/><use href="#G" x="307.6"/>
<g transform="translate(0,15)"><use href="#R" x="338.3"/><use href="#R" x="368.9"/><use href="#R" x="522"/><use href="#R" x="552.6"/><use href="#R" x="583.3"/><use href="#R" x="613.9"/><use href="#R" x="644.5"/><use href="#R" x="675.1"/><use href="#R" x="705.8"/><use href="#R" x="736.4"/><use href="#sR" x="767"/></g>
<g transform="translate(0,30)"><use href="#Y" x="399.5"/><use href="#Y" x="430.1"/><use href="#sY" x="807.8"/><use href="#sY" x="971.2"/></g>
<g transform="translate(0,45)"><use href="#B" x="460.8"/><use href="#B" x="491.4"/><use href="#sB" x="848.7"/><use href="#sB" x="930.3"/></g>
<g transform="translate(0,60)"><use href="#sO" x="889.5"/></g>
<rect class="sp" x="767" width="204.2" height="60"/>
<text class="q" y="-21"><tspan x="31">♩=159</tspan><tspan x="276">♩=161</tspan><tspan x="521">♩=161</tspan><tspan x="766">♩=142</tspan><tspan x="888.5">♩=160</tspan></text>
<text class="n" y="-7"><tspan x="32">73</tspan><tspan x="277">74</tspan><tspan x="522">75</tspan><tspan x="767">76</tspan></text>
<text class="s" y="76"><tspan x="275">200</tspan><tspan x="520">200</tspan><tspan x="765">200</tspan><tspan x="1010">150</tspan></text>
<text class="c" y="89.5"><tspan x="275">92249</tspan><tspan x="520">93449</tspan><tspan x="765">94649</tspan><tspan x="1010">95549</tspan></text>
<text class="p" y="102.5"><tspan x="275">0.00%</tspan><tspan x="520">0.00%</tspan><tspan x="765">0.00%</tspan><tspan x="1010">25.00%</tspan></text>
</g>

<g id="r20" transform="translate(0,2884.7)">
<use href="#g4"/>
<use href="#G" x="32"/>
<g transform="translate(0,15)"><use href="#R" x="62.6"/><use href="#R" x="93.3"/><use href="#R" x="123.9"/><use href="#R" x="154.5"/><use href="#R" x="185.1"/><use href="#R" x="215.8"/><use href="#R" x="246.4"/><use href="#R" x="277"/><use href="#R" x="307.6"/><use href="#R" x="338.3"/><use href="#R" x="368.9"/><use href="#R" x="399.5"/><use href="#R" x="430.1"/><use href="#R" x="460.8"/><use href="#R" x="491.4"/><use href="#R" x="522"/><use href="#R" x="552.6"/><use href="#R" x="583.3"/><use href="#R" x="613.9"/><use href="#R" x="644.5"/><use href="#R" x="675.1"/><use href="#R" x="705.8"/><use href="#R" x="736.4"/><use href="#R" x="767"/><use href="#R" x="797.6"/><use href="#R" x="828.3"/><use href="#R" x="858.9"/><use href="#R" x="889.5"/><use href="#R" x="920.1"/><use href="#R" x="950.8"/><use href="#R" x="981.4"/></g>
<rect class="pk" x="62.6" width="15.3" height="60"/><rect class="od" x="77.9" width="934.1" height="60"/>
<text class="q" y="-21"><tspan x="31">♩=157</tspan><tspan x="276">♩=163</tspan><tspan x="521">♩=161</tspan><tspan x="766">♩=169</tspan></text>
<text class="n" y="-7"><tspan x="32">77</tspan><tspan x="277">78</tspan><tspan x="522">79</tspan><tspan x="767">80</tspan></text>
<text class="s" y="76"><tspan x="275">200</tspan><tspan x="520">200</tspan><tspan x="765">200</tspan><tspan x="1010">200</tspan></text>
<text class="c" y="89.5"><tspan x="275">97799</tspan><tspan x="520">100199</tspan><tspan x="765">102599</tspan><tspan x="1010">104999</tspan></text>
<text class="p" y="102.5"><tspan x="275">14.79%</tspan><tspan x="520">2.29%</tspan><tspan x="765">0.00%</tspan><tspan x="1010">0.00%</tspan></text>
</g>

<g id="r21" transform="translate(0,3025.7)">
<use href="#g4"/>
<use href="#P13"/>
<rect class="od" x="32" width="45.9" height="60"/><rect class="pk" x="77.9" width="15.4" height="60"/>
<text class="q" y="-21"><tspan x="31">♩=153</tspan><tspan x="153.5">♩=160</tspan><tspan x="276">♩=161</tspan><tspan x="521">♩=160</tspan><tspan x="643.5">♩=161</tspan><tspan x="766">♩=158</tspan><tspan x="888.5">♩=162</tspan></text>
<text class="n" y="-7"><tspan x="32">81</tspan><tspan x="277">82</tspan><tspan x="522">83</tspan><tspan x="767">84</tspan></text>
<text class="s" y="76"><tspan x="275">168</tspan><tspan x="520">152</tspan><tspan x="765">168</tspan><tspan x="1010">152</tspan></text>
<text class="c" y="89.5"><tspan x="275">106361</tspan><tspan x="520">107273</tspan><tspan x="765">108281</tspan><tspan x="1010">109193</tspan></text>
<text class="p" y="102.5"><tspan x="275">0.00%</tspan><tspan x="520">0.00%</tspan><tspan x="765">0.00%</tspan><tspan x="1010">0.00%</tspan></text>
</g>

<g id="r22" transform="translate(0,3166.7)">
<use href="#g4"/>
<use href="#P22"/>
<rect class="sp" x="767" width="214.4" height="60"/>
<text class="q" y="-21"><tspan x="31">♩=156</tspan><tspan x="153.5">♩=162</tspan><tspan x="276">♩=157</tspan><tspan x="398.5">♩=165</tspan><tspan x="521">♩=154</tspan><tspan x="643.5">♩=164</tspan><tspan x="766">♩=166</tspan></text>
<text class="n" y="-7"><tspan x="32">85</tspan><tspan x="277">86</tspan><tspan x="522">87</tspan><tspan x="767">88</tspan></text>
<text class="s" y="76"><tspan x="275">168</tspan><tspan x="520">152</tspan><tspan x="765">168</tspan><tspan x="1010">168</tspan></text>
<text class="c" y="89.5"><tspan x="275">110201</tspan><tspan x="520">111113</tspan><tspan x="765">112121</tspan><tspan x="1010">113129</tspan></text>
<text class="p" y="102.5"><tspan x="275">0.00%</tspan><tspan x="520">0.00%</tspan><tspan x="765">0.00%</tspan><tspan x="1010">30.10%</tspan></text>
</g>

<g id="r23" transform="translate(0,3307.7)">
<use href="#g4"/>
<use href="#G" x="123.9"/><use href="#G" x="246.4"/>
<g transform="translate(0,15)"><use href="#hR" x="522"/><use href="#R" x="491.4"/><use href="#R" x="522"/><use href="#R" x="583.3"/><use href="#R" x="613.9"/><use href="#R" x="644.5"/><use href="#R" x="675.1"/><use href="#R" x="705.8"/><use href="#R" x="736.4"/><use href="#R" x="767"/><use href="#R" x="797.6"/><use href="#R" x="828.3"/><use href="#R" x="858.9"/><use href="#R" x="889.5"/><use href="#R" x="981.4"/></g>
<g transform="translate(0,30)"><use href="#hY" x="32"/><use href="#hY" x="154.5"/><use href="#Y" x="32"/><use href="#Y" x="93.3"/><use href="#Y" x="154.5"/><use href="#Y" x="215.8"/><use href="#Y" x="277"/><use href="#Y" x="307.6"/><use href="#Y" x="460.8"/><use href="#Y" x="950.8"/></g>
<g transform="translate(0,45)"><use href="#hB" x="399.5"/><use href="#B" x="399.5"/></g>
<g transform="translate(0,60)"><use href="#hO" x="338.3"/><use href="#O" x="338.3"/><use href="#O" x="920.1"/></g>
<text class="q" y="-21"><tspan x="31">♩=155</tspan><tspan x="153.5">♩=160</tspan><tspan x="214.8">♩=168</tspan><tspan x="276">♩=161</tspan><tspan x="521">♩=158</tspan><tspan x="643.5">♩=165</tspan><tspan x="766">♩=160</tspan><tspan x="888.5">♩=168</tspan></text>
<text class="n" y="-7"><tspan x="32">89</tspan><tspan x="277">90</tspan><tspan x="522">91</tspan><tspan x="767">92</tspan></text>
<text class="s" y="76"><tspan x="275">168</tspan><tspan x="520">168</tspan><tspan x="765">184</tspan><tspan x="1010">200</tspan></text>
<text class="c" y="89.5"><tspan x="275">114137</tspan><tspan x="520">115145</tspan><tspan x="765">116249</tspan><tspan x="1010">117449</tspan></text>
<text class="p" y="102.5"><tspan x="275">30.10%</tspan><tspan x="520">30.10%</tspan><tspan x="765">30.10%</tspan><tspan x="1010">30.10%</tspan></text>
</g>

<g id="r24" transform="translate(0,3448.7)">
<use href="#g4"/>
<use href="#P9"/>
<text class="q" y="-21"><tspan x="31">♩=156</tspan><tspan x="153.5">♩=164</tspan><tspan x="276">♩=161</tspan><tspan x="398.5">♩=164</tspan><tspan x="521">♩=159</tspan><tspan x="766">♩=158</tspan><tspan x="888.5">♩=169</tspan></text>
<text class="n" y="-7"><tspan x="32">93</tspan><tspan x="277">94</tspan><tspan x="522">95</tspan><tspan x="767">96</tspan></text>
<text class="s" y="76"><tspan x="275">136</tspan><tspan x="520">152</tspan><tspan x="765">152</tspan><tspan x="1010">168</tspan></text>
<text class="c" y="89.5"><tspan x="275">118265</tspan><tspan x="520">119177</tspan><tspan x="765">120089</tspan><tspan x="1010">121097</tspan></text>
<text class="p" y="102.5"><tspan x="275">30.10%</tspan><tspan x="520">30.10%</tspan><tspan x="765">30.10%</tspan><tspan x="1010">30.10%</tspan></text>
</g>

<g id="r25" transform="translate(0,3589.7)">
<use href="#g4"/>
<use href="#G" x="123.9"/><use href="#G" x="246.4"/>
<g transform="translate(0,15)"><use href="#hR" x="399.5"/><use href="#R" x="399.5"/></g>
<g transform="translate(0,30)"><use href="#hY" x="338.3"/><use href="#hY" x="889.5"/><use href="#Y" x="338.3"/><use href="#Y" x="613.9"/><use href="#Y" x="736.4"/><use href="#Y" x="889.5"/></g>
<g transform="translate(0,45)"><use href="#hB" x="32"/><use href="#hB" x="154.5"/><use href="#hB" x="460.8"/><use href="#hB" x="828.3"/><use href="#hB" x="950.8"/><use href="#B" x="32"/><use href="#B" x="93.3"/><use href="#B" x="154.5"/><use href="#B" x="215.8"/><use href="#B" x="277"/><use href="#B" x="307.6"/><use href="#B" x="460.8"/><use href="#B" x="828.3"/><use href="#B" x="950.8"/></g>
<g transform="translate(0,60)"><use href="#hO" x="522"/><use href="#hO" x="644.5"/><use href="#O" x="522"/><use href="#O" x="583.3"/><use href="#O" x="644.5"/><use href="#O" x="705.8"/><use href="#O" x="767"/><use href="#O" x="797.6"/></g>
<text class="q" y="-21"><tspan x="31">♩=158</tspan><tspan x="153.5">♩=169</tspan><tspan x="276">♩=151</tspan><tspan x="398.5">♩=164</tspan><tspan x="521">♩=155</tspan><tspan x="643.5">♩=162</tspan><tspan x="766">♩=158</tspan></text>
<text class="n" y="-7"><tspan x="32">97</tspan><tspan x="277">98</tspan><tspan x="522">99</tspan><tspan x="767">100</tspan></text>
<text class="s" y="76"><tspan x="275">168</tspan><tspan x="520">152</tspan><tspan x="765">168</tspan><tspan x="1010">152</tspan></text>
<text class="c" y="89.5"><tspan x="275">122105</tspan><tspan x="520">123017</tspan><tspan x="765">124025</tspan><tspan x="1010">124937</tspan></text>
<text class="p" y="102.5"><tspan x="275">30.10%</tspan><tspan x="520">30.10%</tspan><tspan x="765">30.10%</tspan><tspan x="1010">30.10%</tspan></text>
</g>

<g id="r26" transform="translate(0,3730.7)">
<rect class="py" x="32" y="-10" width="214.4" height="81"/>
<use href="#g4"/>
<use href="#hG" x="460.8"/><use href="#sG" x="123.9"/><use href="#sG" x="246.4"/><use href="#G" x="460.8"/>
<g transform="translate(0,15)"><use href="#hR" x="399.5"/><use href="#R" x="399.5"/></g>
<g transform="translate(0,30)"><use href="#hY" x="338.3"/><use href="#Y" x="338.3"/><use href="#Y" x="613.9"/><use href="#Y" x="736.4"/><use href="#Y" x="858.9"/><use href="#Y" x="981.4"/></g>
<g transform="translate(0,45)"><use href="#hB" x="32"/><use href="#hB" x="154.5"/><use href="#sB" x="32"/><use href="#sB" x="93.3"/><use href="#sB" x="154.5"/><use href="#sB" x="215.8"/><use href="#B" x="277"/><use href="#B" x="307.6"/><use href="#B" x="828.3"/><use href="#B" x="950.8"/></g>
<g transform="translate(0,60)"><use href="#hO" x="644.5"/><use href="#hO" x="767"/><use href="#hO" x="889.5"/><use href="#O" x="522"/><use href="#O" x="552.6"/><use href="#O" x="583.3"/><use href="#O" x="644.5"/><use href="#O" x="705.8"/><use href="#O" x="767"/><use href="#O" x="889.5"/></g>
<rect class="sp" x="32" width="214.4" height="60"/>
<rect class="pk" x="522" width="9.3" height="60"/><path d="M522 0V60" stroke="#900"/><rect class="od" x="531.3" width="480.7" height="60"/>
<text class="q" y="-21"><tspan x="31">♩=157</tspan><tspan x="153.5">♩=161</tspan><tspan x="276">♩=158</tspan><tspan x="398.5">♩=158</tspan><tspan x="459.8">♩=154</tspan><tspan x="521">♩=159</tspan><tspan x="766">♩=157</tspan><tspan x="888.5">♩=164</tspan></text>
<text class="n" y="-7"><tspan x="32">101</tspan><tspan x="277">102</tspan><tspan x="522">103</tspan><tspan x="767">104</tspan></text>
<text class="s" y="76"><tspan x="275">168</tspan><tspan x="520">152</tspan><tspan x="765">184</tspan><tspan x="1010">168</tspan></text>
<text class="c" y="89.5"><tspan x="275">125945</tspan><tspan x="520">126857</tspan><tspan x="765">129065</tspan><tspan x="1010">131081</tspan></text>
<text class="p" y="102.5"><tspan x="275">60.20%</tspan><tspan x="520">60.20%</tspan><tspan x="765">48.04%</tspan><tspan x="1010">35.54%</tspan></text>
</g>

<g id="r27" transform="translate(0,3871.7)">
<use href="#g4"/>
<use href="#hG" x="399.5"/><use href="#G" x="123.9"/><use href="#G" x="246.4"/><use href="#G" x="399.5"/>
<g transform="translate(0,15)"><use href="#hR" x="338.3"/><use href="#R" x="338.3"/></g>
<g transform="translate(0,30)"><use href="#hY" x="32"/><use href="#hY" x="154.5"/><use href="#hY" x="460.8"/><use href="#Y" x="32"/><use href="#Y" x="93.3"/><use href="#Y" x="154.5"/><use href="#Y" x="215.8"/><use href="#Y" x="277"/><use href="#Y" x="307.6"/><use href="#Y" x="460.8"/><use href="#Y" x="613.9"/><use href="#Y" x="736.4"/><use href="#Y" x="858.9"/><use href="#Y" x="981.4"/></g>
<g transform="translate(0,45)"><use href="#B" x="828.3"/><use href="#B" x="950.8"/></g>
<g transform="translate(0,60)"><use href="#hO" x="522"/><use href="#hO" x="644.5"/><use href="#hO" x="889.5"/><use href="#O" x="522"/><use href="#O" x="583.3"/><use href="#O" x="644.5"/><use href="#O" x="705.8"/><use href="#O" x="767"/><use href="#O" x="797.6"/><use href="#O" x="889.5"/></g>
<rect class="od" x="32" width="980" height="60"/>
<text class="q" y="-21"><tspan x="31">♩=155</tspan><tspan x="276">♩=159</tspan><tspan x="521">♩=153</tspan><tspan x="643.5">♩=155</tspan><tspan x="766">♩=158</tspan><tspan x="888.5">♩=162</tspan></text>
<text class="n" y="-7"><tspan x="32">105</tspan><tspan x="277">106</tspan><tspan x="522">107</tspan><tspan x="767">108</tspan></text>
<text class="s" y="76"><tspan x="275">168</tspan><tspan x="520">152</tspan><tspan x="765">168</tspan><tspan x="1010">184</tspan></text>
<text class="c" y="89.5"><tspan x="275">133097</tspan><tspan x="520">134921</tspan><tspan x="765">136937</tspan><tspan x="1010">139145</tspan></text>
<text class="p" y="102.5"><tspan x="275">23.04%</tspan><tspan x="520">10.54%</tspan><tspan x="765">0.00%</tspan><tspan x="1010">0.00%</tspan></text>
</g>

<g id="r28" transform="translate(0,4012.7)">
<use href="#g4"/>
<use href="#P22"/>
<rect class="od" x="32" width="206.1" height="60"/><rect class="pk" x="238.1" width="8.3" height="60"/>
<rect class="sp" x="767" width="214.4" height="60"/>
<text class="q" y="-21"><tspan x="31">♩=155</tspan><tspan x="276">♩=156</tspan><tspan x="521">♩=155</tspan><tspan x="643.5">♩=154</tspan><tspan x="766">♩=158</tspan></text>
<text class="n" y="-7"><tspan x="32">109</tspan><tspan x="277">110</tspan><tspan x="522">111</tspan><tspan x="767">112</tspan></text>
<text class="s" y="76"><tspan x="275">168</tspan><tspan x="520">152</tspan><tspan x="765">168</tspan><tspan x="1010">168</tspan></text>
<text class="c" y="89.5"><tspan x="275">141161</tspan><tspan x="520">142073</tspan><tspan x="765">143081</tspan><tspan x="1010">144089</tspan></text>
<text class="p" y="102.5"><tspan x="275">0.00%</tspan><tspan x="520">0.00%</tspan><tspan x="765">0.00%</tspan><tspan x="1010">30.10%</tspan></text>
</g>

<g id="r29" transform="translate(0,4153.7)">
<use href="#g4"/>
<use href="#P29"/>
<text class="q" y="-21"><tspan x="31">♩=154</tspan><tspan x="276">♩=157</tspan><tspan x="521">♩=154</tspan><tspan x="766">♩=162</tspan></text>
<text class="n" y="-7"><tspan x="32">113</tspan><tspan x="277">114</tspan><tspan x="522">115</tspan><tspan x="767">116</tspan></text>
<text class="s" y="76"><tspan x="275">168</tspan><tspan x="520">168</tspan><tspan x="765">168</tspan><tspan x="1010">168</tspan></text>
<text class="c" y="89.5"><tspan x="275">145097</tspan><tspan x="520">146009</tspan><tspan x="765">147017</tspan><tspan x="1010">148025</tspan></text>
<text class="p" y="102.5"><tspan x="275">30.10%</tspan><tspan x="520">30.10%</tspan><tspan x="765">30.10%</tspan><tspan x="1010">30.10%</tspan></text>
</g>

<g id="r30" transform="translate(0,4294.7)">
<use href="#g4"/>
<use href="#P30"/>
<text class="q" y="-21"><tspan x="31">♩=156</tspan><tspan x="276">♩=160</tspan><tspan x="521">♩=156</tspan><tspan x="766">♩=162</tspan></text>
<text class="n" y="-7"><tspan x="32">117</tspan><tspan x="277">118</tspan><tspan x="522">119</tspan><tspan x="767">120</tspan></text>
<text class="s" y="76"><tspan x="275">168</tspan><tspan x="520">168</tspan><tspan x="765">168</tspan><tspan x="1010">168</tspan></text>
<text class="c" y="89.5"><tspan x="275">149033</tspan><tspan x="520">149945</tspan><tspan x="765">150953</tspan><tspan x="1010">151961</tspan></text>
<text class="p" y="102.5"><tspan x="275">30.10%</tspan><tspan x="520">30.10%</tspan><tspan x="765">30.10%</tspan><tspan x="1010">30.10%</tspan></text>
</g>

<g id="r31" transform="translate(0,4435.7)">
<use href="#g4"/>
<use href="#P29"/>
<text class="q" y="-21"><tspan x="31">♩=155</tspan><tspan x="276">♩=160</tspan><tspan x="521">♩=156</tspan><tspan x="766">♩=162</tspan></text>
<text class="n" y="-7"><tspan x="32">121</tspan><tspan x="277">122</tspan><tspan x="522">123</tspan><tspan x="767">124</tspan></text>
<text class="s" y="76"><tspan x="275">168</tspan><tspan x="520">168</tspan><tspan x="765">168</tspan><tspan x="1010">168</tspan></text>
<text class="c" y="89.5"><tspan x="275">152969</tspan><tspan x="520">153881</tspan><tspan x="765">154889</tspan><tspan x="1010">155897</tspan></text>
<text class="p" y="102.5"><tspan x="275">30.10%</tspan><tspan x="520">30.10%</tspan><tspan x="765">30.10%</tspan><tspan x="1010">30.10%</tspan></text>
</g>

<g id="r32" transform="translate(0,4576.7)">
<rect class="py" x="32" y="-10" width="214.4" height="81"/>
<use href="#g4"/>
<use href="#hG" x="399.5"/><use href="#sG" x="123.9"/><use href="#sG" x="246.4"/><use href="#G" x="399.5"/><use href="#G" x="736.4"/>
<g transform="translate(0,15)"><use href="#hR" x="338.3"/><use href="#hR" x="950.8"/><use href="#R" x="338.3"/><use href="#R" x="767"/><use href="#R" x="828.3"/><use href="#R" x="950.8"/></g>
<g transform="translate(0,30)"><use href="#hY" x="32"/><use href="#hY" x="154.5"/><use href="#hY" x="460.8"/><use href="#sY" x="32"/><use href="#sY" x="93.3"/><use href="#sY" x="154.5"/><use href="#sY" x="215.8"/><use href="#Y" x="277"/><use href="#Y" x="307.6"/><use href="#Y" x="460.8"/><use href="#Y" x="613.9"/></g>
<g transform="translate(0,45)"><use href="#hB" x="889.5"/><use href="#B" x="797.6"/><use href="#B" x="889.5"/></g>
<g transform="translate(0,60)"><use href="#hO" x="522"/><use href="#hO" x="644.5"/><use href="#O" x="522"/><use href="#O" x="583.3"/><use href="#O" x="644.5"/><use href="#O" x="705.8"/><use href="#O" x="858.9"/></g>
<rect class="sp" x="32" width="214.4" height="60"/>
<rect class="pk" x="583.3" width="9.3" height="60"/><rect class="od" x="592.6" width="419.4" height="60"/>
<text class="q" y="-21"><tspan x="31">♩=156</tspan><tspan x="276">♩=160</tspan><tspan x="521">♩=156</tspan><tspan x="766">♩=162</tspan></text>
<text class="n" y="-7"><tspan x="32">125</tspan><tspan x="277">126</tspan><tspan x="522">127</tspan><tspan x="767">128</tspan></text>
<text class="s" y="76"><tspan x="275">168</tspan><tspan x="520">152</tspan><tspan x="765">168</tspan><tspan x="1010">168</tspan></text>
<text class="c" y="89.5"><tspan x="275">156905</tspan><tspan x="520">157817</tspan><tspan x="765">159629</tspan><tspan x="1010">161645</tspan></text>
<text class="p" y="102.5"><tspan x="275">60.20%</tspan><tspan x="520">60.20%</tspan><tspan x="765">51.16%</tspan><tspan x="1010">38.66%</tspan></text>
</g>

<g id="r33" transform="translate(0,4717.7)">
<use href="#g4"/>
<use href="#P30"/>
<rect class="od" x="32" width="980" height="60"/>
<text class="q" y="-21"><tspan x="31">♩=157</tspan><tspan x="276">♩=161</tspan><tspan x="521">♩=156</tspan><tspan x="643.5">♩=159</tspan><tspan x="766">♩=159</tspan></text>
<text class="n" y="-7"><tspan x="32">129</tspan><tspan x="277">130</tspan><tspan x="522">131</tspan><tspan x="767">132</tspan></text>
<text class="s" y="76"><tspan x="275">168</tspan><tspan x="520">152</tspan><tspan x="765">168</tspan><tspan x="1010">168</tspan></text>
<text class="c" y="89.5"><tspan x="275">163661</tspan><tspan x="520">165485</tspan><tspan x="765">167501</tspan><tspan x="1010">169517</tspan></text>
<text class="p" y="102.5"><tspan x="275">26.16%</tspan><tspan x="520">13.66%</tspan><tspan x="765">1.16%</tspan><tspan x="1010">0.00%</tspan></text>
</g>

<g id="r34" transform="translate(0,4858.7)">
<use href="#g4"/>
<use href="#P29"/>
<rect class="od" x="32" width="267.4" height="60"/><rect class="pk" x="299.4" width="8.2" height="60"/>
<text class="q" y="-21"><tspan x="31">♩=157</tspan><tspan x="276">♩=160</tspan><tspan x="521">♩=154</tspan><tspan x="643.5">♩=158</tspan><tspan x="704.8">♩=153</tspan><tspan x="888.5">♩=170</tspan><tspan x="949.8">♩=160</tspan></text>
<text class="n" y="-7"><tspan x="32">133</tspan><tspan x="277">134</tspan><tspan x="522">135</tspan><tspan x="767">136</tspan></text>
<text class="s" y="76"><tspan x="275">168</tspan><tspan x="520">152</tspan><tspan x="765">168</tspan><tspan x="1010">168</tspan></text>
<text class="c" y="89.5"><tspan x="275">171533</tspan><tspan x="520">172745</tspan><tspan x="765">173753</tspan><tspan x="1010">174761</tspan></text>
<text class="p" y="102.5"><tspan x="275">0.00%</tspan><tspan x="520">0.00%</tspan><tspan x="765">0.00%</tspan><tspan x="1010">0.00%</tspan></text>
</g>

<g id="r35" transform="translate(0,4999.7)">
<use href="#g3"/>
<use href="#G" x="123.9"/>
<g transform="translate(0,30)"><use href="#hY" x="32"/><rect x="215.8" y="-3.5" width="336.9" height="7" fill="#ff0"/><use href="#Y" x="32"/><use href="#Y" x="93.3"/><use href="#Y" x="154.5"/><use href="#Y" x="200.4"/><use href="#Y" x="215.8"/></g>
<text class="q" y="-21"><tspan x="31">♩=154</tspan><tspan x="153.5">♩=126</tspan><tspan x="214.8">♩=138</tspan><tspan x="398.5">♩=163</tspan><tspan x="521">♩=153</tspan></text>
<text class="n" y="-7"><tspan x="32">137</tspan><tspan x="277">138</tspan><tspan x="522">139</tspan></text>
<text class="s" y="76"><tspan x="275">171</tspan><tspan x="520">48</tspan><tspan x="765">6</tspan></text>
<text class="c" y="89.5"><tspan x="275">175787</tspan><tspan x="520">176075</tspan><tspan x="765">176111</tspan></text>
<text class="p" y="102.5"><tspan x="275">0.00%</tspan><tspan x="520">0.00%</tspan><tspan x="765">0.00%</tspan></text>
</g>
</g>
</svg>
